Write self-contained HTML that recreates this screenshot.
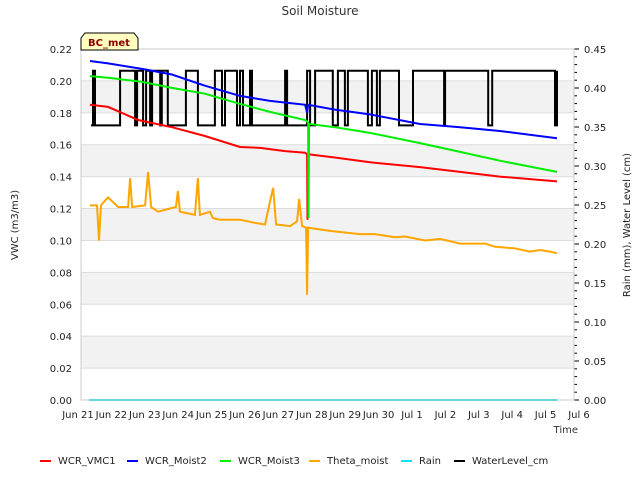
<!DOCTYPE html>
<html><head><meta charset="utf-8"><style>
body{margin:0;background:#fff;}
svg{display:block;font-family:"DejaVu Sans","Liberation Sans",sans-serif;}
</style></head><body>
<svg id="chart" width="640" height="480" viewBox="0 0 640 480">
<rect width="640" height="480" fill="#fff"/>
<g id="bands"></g><g id="grid"></g><g id="series"></g><g id="axes"></g>
<text x="320" y="15" text-anchor="middle" font-size="12" fill="#333">Soil Moisture</text>
<text transform="translate(18,225) rotate(-90)" text-anchor="middle" font-size="10" fill="#222">VWC (m3/m3)</text>
<text transform="translate(630,225) rotate(-90)" text-anchor="middle" font-size="10" fill="#222">Rain (mm), Water Level (cm)</text>
<text x="578" y="433" text-anchor="end" font-size="10" fill="#333">Time</text>
<g>
<path d="M81,50 L81,38 L85,33 L134,33 L138,38 L138,50 Z" fill="#ffffc0" stroke="#000" stroke-width="1"/>
<text x="109" y="46" text-anchor="middle" font-size="10" font-weight="bold" fill="#8b0000">BC_met</text>
</g>
<g id="legend"></g>
</svg>
<script>
const xTickLabels=["Jun 21","Jun 22","Jun 23","Jun 24","Jun 25","Jun 26","Jun 27","Jun 28","Jun 29","Jun 30","Jul 1","Jul 2","Jul 3","Jul 4","Jul 5","Jul 6"];
const leftTicks=[0,0.02,0.04,0.06,0.08,0.10,0.12,0.14,0.16,0.18,0.20,0.22];
const rightTicks=[0,0.05,0.10,0.15,0.20,0.25,0.30,0.35,0.40,0.45];
const redDays=[0.36,0.9,1.8,2.81,3.8,4.85,5.45,6.2,6.8,6.86,6.87,6.89,7.69,8.74,10.24,11.44,12.63,14.34];
const redVals=[0.185,0.1837,0.1755,0.171,0.1655,0.1586,0.158,0.156,0.155,0.154,0.113,0.154,0.152,0.149,0.146,0.143,0.140,0.137];
const blueDays=[0.36,0.9,1.92,2.81,3.8,4.85,5.75,6.8,6.86,6.89,7.69,8.74,10.24,11.44,12.63,14.34];
const blueVals=[0.2125,0.211,0.2075,0.204,0.197,0.1906,0.1875,0.185,0.180,0.185,0.182,0.179,0.173,0.171,0.1686,0.164];
const greenDays=[0.36,0.9,1.92,2.81,3.8,4.85,5.75,6.8,6.89,6.9,6.92,7.69,8.74,10.24,11.44,12.63,14.34];
const greenVals=[0.203,0.202,0.1994,0.1956,0.192,0.1856,0.1806,0.1755,0.174,0.114,0.173,0.171,0.1674,0.161,0.1555,0.150,0.143];
const thetaDays=[0.36,0.57,0.63,0.69,0.81,0.9,1.05,1.2,1.5,1.56,1.62,2.01,2.1,2.19,2.4,2.75,2.93,2.99,3.05,3.5,3.59,3.65,3.95,4.04,4.25,4.85,5.3,5.6,5.84,5.93,6.35,6.56,6.62,6.71,6.83,6.86,6.89,7.54,7.99,8.44,8.89,9.49,9.79,10.39,10.84,11.44,12.19,12.49,13.08,13.53,13.83,14.13,14.34];
const thetaVals=[0.122,0.122,0.100,0.122,0.125,0.127,0.124,0.121,0.121,0.139,0.121,0.122,0.143,0.121,0.118,0.120,0.121,0.131,0.118,0.116,0.139,0.116,0.118,0.114,0.113,0.113,0.111,0.110,0.133,0.110,0.109,0.112,0.126,0.109,0.108,0.066,0.108,0.106,0.105,0.104,0.104,0.102,0.1025,0.100,0.101,0.098,0.098,0.096,0.095,0.093,0.094,0.093,0.092];
const rainDays=[0.33,14.34];
const rainVals=[0,0];
const wlDays=[0.39,0.45,0.51,1.26,1.71,1.77,1.95,2.04,2.16,2.22,2.46,2.51,2.69,3.23,3.59,4.10,4.31,4.40,4.76,4.85,4.94,5.15,5.21,6.20,6.26,6.86,6.95,7.10,7.63,7.78,7.99,8.08,8.68,8.80,8.95,9.04,9.61,10.03,10.96,10.99,12.28,12.40,14.28,14.34];
const wlVals=[0.352,0.422,0.352,0.422,0.352,0.422,0.352,0.422,0.352,0.422,0.352,0.422,0.352,0.422,0.352,0.422,0.352,0.422,0.352,0.422,0.352,0.422,0.352,0.422,0.352,0.422,0.352,0.422,0.352,0.422,0.352,0.422,0.352,0.422,0.352,0.422,0.352,0.422,0.352,0.422,0.352,0.422,0.352,0.422];

const NS='http://www.w3.org/2000/svg';
const L=81,R=574,T=49,B=400;
const x=d=>78+33.4*d;
const yL=v=>B-(v/0.22)*(B-T);
const yR=v=>B-(v/0.45)*(B-T);
function mk(tag,attrs,parent){const e=document.createElementNS(NS,tag);for(const k in attrs)e.setAttribute(k,attrs[k]);parent.appendChild(e);return e;}
const bands=document.getElementById('bands'),grid=document.getElementById('grid'),series=document.getElementById('series'),axes=document.getElementById('axes'),legend=document.getElementById('legend');
for(let i=0;i<leftTicks.length-1;i++){
  if(i%2===1){const b=mk('rect',{x:L,y:yL(leftTicks[i+1]),width:R-L,height:yL(leftTicks[i])-yL(leftTicks[i+1]),fill:'#f2f2f2'},bands);
  
  }
}
leftTicks.forEach(v=>{
  const g=mk('line',{x1:L,x2:R,y1:yL(v),y2:yL(v),stroke:'#dcdcdc','stroke-width':1},grid);
  
  
  const t=mk('text',{x:72,y:yL(v)+4,'text-anchor':'end','font-size':10,fill:'#222'},axes);
  t.textContent=v.toFixed(2);
  
  
});
rightTicks.forEach(v=>{
  const tk=mk('line',{x1:R,x2:R+5,y1:yR(v),y2:yR(v),stroke:'#000'},axes);
  
  
  const t=mk('text',{x:R+10,y:yR(v)+4,'font-size':10,fill:'#222'},axes);
  t.textContent=v.toFixed(2);
  
  
});
for(let i=0;i<=45;i++){if(i%5===0)continue;
  const m=mk('line',{x1:R,x2:R+3,y1:yR(i/100),y2:yR(i/100),stroke:'#000'},axes);
  
  }
xTickLabels.forEach((s,i)=>{
  const t=mk('text',{x:x(i),y:418,'text-anchor':'middle','font-size':10,fill:'#222'},axes);
  t.textContent=s;
  
  
});
const fr=mk('rect',{x:L,y:T,width:R-L,height:B-T,fill:'none',stroke:'#ccc'},axes);


function line(days,vals,ys,color,name,step){
  let d='';
  days.forEach((t,i)=>{
    const px=x(t).toFixed(1),py=ys(vals[i]).toFixed(1);
    if(i===0)d+='M'+px+','+py;
    else if(step)d+='H'+px+'V'+py;
    else d+='L'+px+','+py;
  });
  const p=mk('path',{d:d,fill:'none',stroke:color,'stroke-width':2},series);
  
  
}
line(wlDays,wlVals,yR,'#000','waterlevel-line',true);
line(rainDays,rainVals,yR,'#00e5ee','rain-line',false);
line(thetaDays,thetaVals,yL,'#ffa500','theta-moist-line',false);
line(redDays,redVals,yL,'#ff0000','wcr-vmc1-line',false);
line(greenDays,greenVals,yL,'#00ee00','wcr-moist3-line',false);
line(blueDays,blueVals,yL,'#0000ff','wcr-moist2-line',false);
const legendNames=["WCR_VMC1","WCR_Moist2","WCR_Moist3","Theta_moist","Rain","WaterLevel_cm"];
const legendColors=["#ff0000","#0000ff","#00ee00","#ffa500","#00e5ee","#000"];
const legendX=[40,127,220,309,401,454];
legendNames.forEach((n,i)=>{
  const g=mk('g',{},legend);
  
  
  mk('line',{x1:legendX[i],x2:legendX[i]+11,y1:461,y2:461,stroke:legendColors[i],'stroke-width':2},g);
  const t=mk('text',{x:legendX[i]+18,y:464,'font-size':10,fill:'#222'},g);
  t.textContent=n;
});
</script>
</body></html>
